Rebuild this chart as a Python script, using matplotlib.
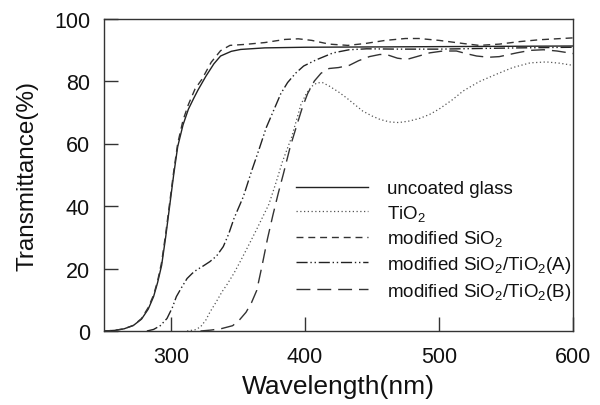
import matplotlib
matplotlib.use('Agg')
import matplotlib.pyplot as plt

plt.rcParams['font.family'] = ['Liberation Sans', 'DejaVu Sans']
plt.rcParams['mathtext.fontset'] = 'custom'
plt.rcParams['mathtext.rm'] = 'Liberation Sans'
plt.rcParams['mathtext.it'] = 'Liberation Sans:italic'
plt.rcParams['mathtext.bf'] = 'Liberation Sans:bold'

# ---- data ----
glass_wl = [250, 258, 265, 272, 278, 283, 287, 290, 293, 296, 299, 302, 305, 309, 313, 317,
            320, 326, 332, 337, 345, 352, 370, 400, 450, 500, 550, 600]
glass_T = [0, 0.2, 0.7, 1.8, 3.8, 7, 11, 15.5, 21, 30, 40, 50, 59, 66, 71, 74.5,
           77, 81.5, 85.5, 88, 89.5, 90.1, 90.6, 90.8, 90.9, 91, 91.1, 91.2]

tio2_wl = [312, 318, 322, 326, 329, 334, 338, 342, 347, 352, 358, 364, 369, 373, 378, 383,
           390, 394, 397, 401, 405, 409, 413, 418, 425, 431, 437, 443, 450, 456, 463, 470,
           478, 486, 493, 500, 510, 518, 530, 543, 555, 568, 580, 590, 600]
tio2_T = [0, 0.4, 1.3, 3.5, 6, 9.5, 12.5, 15, 18.5, 22.5, 27.5, 32.6, 37, 40.5, 47, 54,
          62, 68, 72.5, 76, 78.3, 79.4, 79.5, 78.4, 76.5, 74.6, 72.5, 70.4, 68.8, 67.7, 66.9, 66.7,
          67.2, 68.1, 69.3, 71, 74, 76.8, 79.8, 82.2, 84.3, 85.8, 86.1, 85.7, 85]

sio2_wl = [250, 258, 265, 272, 278, 283, 287, 290, 293, 296, 299, 302, 305, 309, 313, 318,
           323, 330, 337, 344, 355, 370, 385, 395, 405, 418, 432, 445, 460, 475, 485, 500,
           518, 530, 545, 560, 575, 600]
sio2_T = [0, 0.2, 0.7, 1.8, 4, 7.5, 11.5, 16, 22, 31, 41, 51, 60, 67.5, 72.5, 77.5,
          80.5, 86, 89.7, 91.4, 91.7, 92.3, 93.3, 93.5, 93, 91.8, 91.4, 92, 93, 93.6, 93.6, 93,
          92, 91.4, 91.8, 92.6, 93.2, 93.8]

a_wl = [282, 287, 292, 297, 301, 304, 308, 312, 316, 319, 324, 329, 334, 339, 343, 347,
        354, 360, 366, 371, 377, 382, 387, 393, 399, 408, 421, 433, 446, 470, 500, 530, 560, 600]
a_T = [0, 0.5, 1.7, 4, 7.5, 11, 14, 16.8, 18.5, 19.5, 20.8, 22.2, 24, 27, 31, 36,
       43, 51, 58.5, 65, 71, 76, 79.5, 82.5, 84.8, 86.7, 89, 90, 90.3, 90.2, 90.2, 90.4, 90.6, 90.8]

b_wl = [322, 330, 338, 346, 351, 356, 360, 364, 368, 372, 376, 380, 384, 389, 394, 398,
        402, 407, 412, 418, 425, 433, 440, 448, 456, 462, 469, 476, 485, 493, 503, 513,
        520, 528, 537, 545, 558, 568, 578, 588, 600]
b_T = [0, 0.3, 0.8, 1.7, 3.5, 6, 9, 13, 21, 29.5, 37, 44, 50.5, 59, 66, 71.5,
       76, 80, 82.5, 84, 84.3, 85, 86.5, 87.8, 88.5, 88.3, 87.3, 86.9, 88, 89, 89.6, 89.6,
       88.8, 88, 87.6, 87.8, 89, 89.8, 90, 89.6, 88.8]

labels = ['uncoated glass', r'TiO$_2$', r'modified SiO$_2$',
          r'modified SiO$_2$/TiO$_2$(A)', r'modified SiO$_2$/TiO$_2$(B)']
x_ticks = [300, 400, 500, 600]
y_ticks = [0, 20, 40, 60, 80, 100]

# ---- figure ----
fig = plt.figure(figsize=(6, 4.06), dpi=100)
ax = fig.add_axes([104 / 600, 74 / 406, 469 / 600, 312.5 / 406])

ax.plot(glass_wl, glass_T, color='#222222', lw=1.0, ls='-', label=labels[0])
ax.plot(tio2_wl, tio2_T, color='#555555', lw=0.9, ls=(0, (1, 2)), label=labels[1])
ax.plot(sio2_wl, sio2_T, color='#333333', lw=1.0, ls=(0, (5, 3.5)), label=labels[2])
ax.plot(a_wl, a_T, color='#222222', lw=1.0, ls=(0, (8, 2, 1, 2, 1, 2)), label=labels[3])
ax.plot(b_wl, b_T, color='#333333', lw=1.0, ls=(0, (10, 5)), label=labels[4])

ax.set_xlim(250, 600)
ax.set_ylim(0, 100)
ax.set_xticks(x_ticks)
ax.set_yticks(y_ticks)
ax.tick_params(direction='in', length=10, width=1, colors='#333333',
               labelcolor='#111111', labelsize=15.5, top=False, right=False)
ax.tick_params(axis='x', pad=11)
ax.tick_params(axis='y', pad=10)
for s in ax.spines.values():
    s.set_color('#333333')
    s.set_linewidth(1.0)

ax.set_xlabel('Wavelength(nm)', fontsize=19, color='#111111', labelpad=5)
ax.set_ylabel('Transmittance(%)', fontsize=17.5, color='#111111', labelpad=11)

leg = ax.legend(loc='upper left', bbox_to_anchor=(296 / 600, 1 - 181 / 406),
                bbox_transform=fig.transFigure, frameon=False, fontsize=13.5,
                handlelength=3.84, handletextpad=1.0, labelspacing=0.3,
                borderpad=0, borderaxespad=0)
for t in leg.get_texts():
    t.set_color('#111111')

fig.savefig('out.png', dpi=100)
